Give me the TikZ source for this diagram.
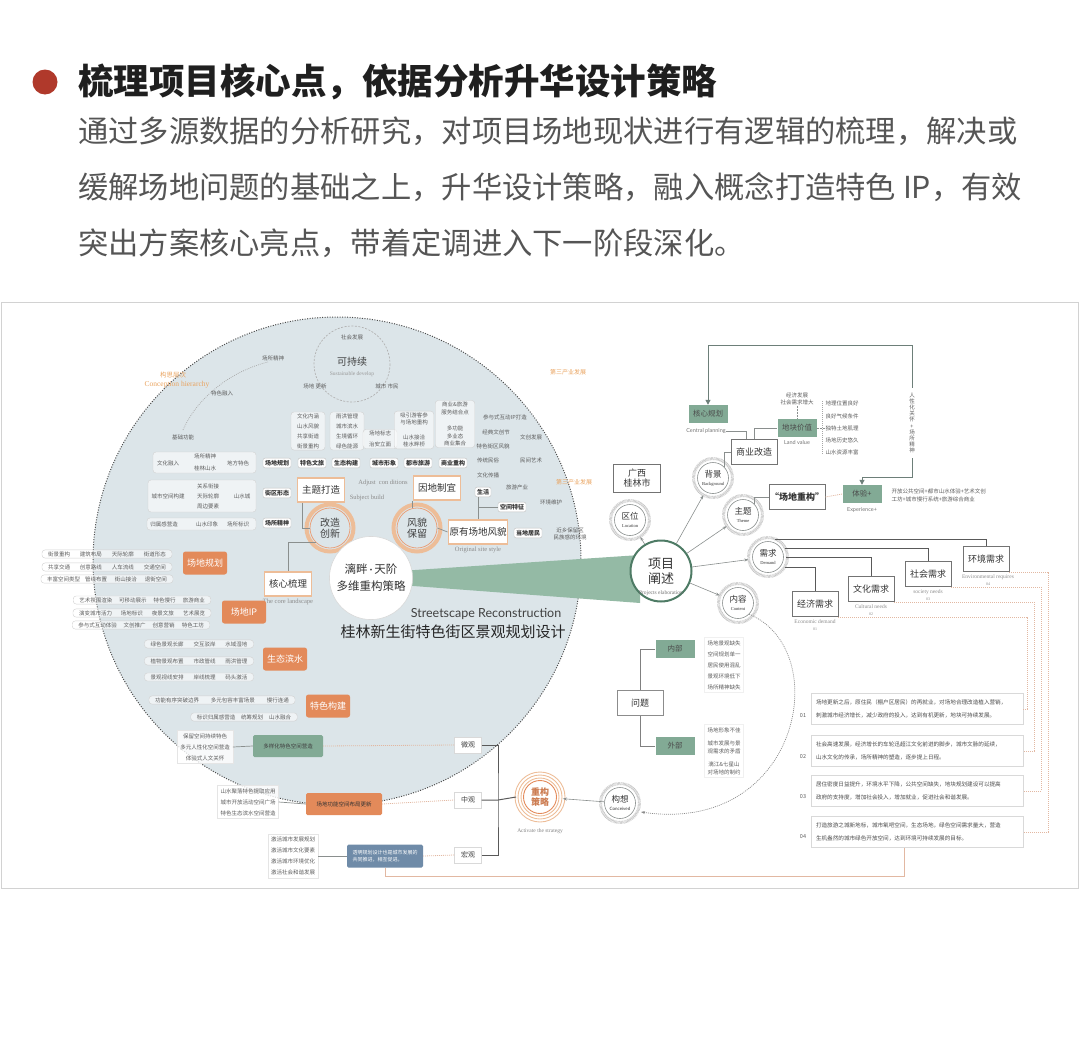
\documentclass[tikz,border=0pt]{standalone}
\usepackage{fontspec}
\setmainfont{Noto Sans CJK SC}
\newfontfamily\enserif{Liberation Serif}
\newfontfamily\ensans{Lato}
\usetikzlibrary{arrows.meta,positioning,calc}

\definecolor{headred}{HTML}{B0392B}
\definecolor{bodygray}{HTML}{555555}
\definecolor{circfill}{HTML}{DCE5E9}
\definecolor{bandgreen}{HTML}{94BAA5}
\definecolor{ringgreen}{HTML}{4E7B65}
\definecolor{tagorange}{HTML}{E38A5A}
\definecolor{paleorange}{HTML}{EDBD98}
\definecolor{hintorange}{HTML}{E9A35F}
\definecolor{boxgreen}{HTML}{82AA95}
\definecolor{boxblue}{HTML}{6F8BA8}
\definecolor{txtgray}{HTML}{5C5C5C}
\definecolor{linegray}{HTML}{8A8F8E}
\definecolor{loopgray}{HTML}{6D7F79}
\definecolor{dotpeach}{HTML}{E2B8A2}
\definecolor{framegray}{HTML}{D2D2D2}

\newcommand{\pxfont}[2]{\fontsize{#1}{#2}\selectfont}

\tikzset{
  headtext/.style={anchor=west, inner sep=0pt, font=\pxfont{35.5}{40}\bfseries, text=black!88},
  bodytext/.style={anchor=west, inner sep=0pt, font=\pxfont{30.3}{34}, text=bodygray},
  tiny/.style={font=\pxfont{5.5}{7}, text=txtgray, inner sep=0.5pt, align=center},
  entag/.style={font=\enserif\pxfont{5.5}{6}, text=black!45, inner sep=0.5pt},
  sanstag/.style={font=\ensans\pxfont{5.5}{6}, text=black!55, inner sep=0.5pt},
  tagbox/.style={draw=black!25, fill=white, rounded corners=2pt, font=\pxfont{6}{7}\bfseries, text=black!80, inner xsep=2pt, inner ysep=2pt},
  rowbox/.style={draw=black!18, fill=white, fill opacity=0.55, text opacity=1, rounded corners=3pt, font=\pxfont{5.5}{7}, text=txtgray, inner xsep=6pt, inner ysep=1.5pt, align=center},
  rowpanel/.style={draw=black!18, fill=white, fill opacity=0.55, rounded corners=3pt},
  orangetag/.style={fill=tagorange, text=white, rounded corners=2.5pt, font=\pxfont{9}{10}, minimum width=44, minimum height=23, inner sep=1pt},
  themebox/.style={draw=paleorange, line width=1.8pt, fill=white, font=\pxfont{9.5}{11}, text=black!80, minimum width=47, minimum height=24, inner sep=1pt},
  ringnode/.style={circle, draw=tagorange!80, line width=0.8pt, fill=circfill, minimum size=40, inner sep=0pt, align=center, font=\pxfont{10}{11.5}, text=black!75},
  sat/.style={circle, draw=linegray, line width=0.6pt, fill=white, minimum size=31, inner sep=0pt, align=center, font=\pxfont{8.5}{8}, text=black!80},
  satring/.style={draw=black!25, line width=3pt, dash pattern=on 0.5pt off 0.7pt},
  greenbox/.style={fill=boxgreen, font=\pxfont{7.5}{8}, text=black!70, minimum width=39, minimum height=18, inner sep=1pt},
  plainbox/.style={draw=black!55, line width=0.8pt, fill=white, font=\pxfont{9}{11}, text=black!80, minimum width=46, minimum height=25, inner sep=1pt, align=center},
  levelbox/.style={draw=black!15, fill=white, font=\pxfont{7}{8}, text=black!75, minimum width=27, minimum height=16, inner sep=1pt},
  listbox/.style={draw=black!10, fill=white, fill opacity=0.8, text opacity=1, font=\pxfont{5.5}{11}, text=txtgray, align=center, inner sep=3pt},
  notebox/.style={draw=black!15, fill=white, font=\pxfont{5.6}{13}, text=black!70, align=left, text width=202, minimum height=31, inner xsep=5pt, inner ysep=2pt},
  link/.style={draw=linegray, line width=0.7pt},
  looplink/.style={draw=loopgray, line width=1pt},
  needlink/.style={draw=black!65, line width=1pt},
  peachdots/.style={draw=dotpeach, line width=0.8pt, dash pattern=on 1pt off 1pt},
  arrowlink/.style={draw=linegray, line width=0.6pt, -{Stealth[length=4pt,width=3pt]}},
}

\begin{document}
\begin{tikzpicture}[x=1pt, y=-1pt]
\useasboundingbox (0,0) rectangle (1080,1044);

% Heading
\fill[headred] (45,82) circle (12.5);
\node[headtext] (title) at (78,82) {梳理项目核心点，依据分析升华设计策略};
\node[bodytext] (para1) at (78,131) {通过多源数据的分析研究，对项目场地现状进行有逻辑的梳理，解决或};
\node[bodytext] (para2) at (78,187) {缓解场地问题的基础之上，升华设计策略，融入概念打造特色 IP，有效};
\node[bodytext] (para3) at (78,243) {突出方案核心亮点，带着定调进入下一阶段深化。};

% Frame of the map
\draw[framegray, line width=0.8pt] (1,302) rectangle (1078,888);

% Big circle and green band
\fill[circfill] (337,561) circle (244);
\draw[black!70, line width=1pt, dash pattern=on 1pt off 1.5pt] (337,561) circle (244);
\fill[bandgreen] (400,571) -- (640,555) -- (640,603) -- (400,585) -- cycle;

% Conception hierarchy arc
\draw[black!35, line width=0.7pt, dash pattern=on 0.8pt off 1.2pt] (183,430) .. controls (196,400) and (228,372) .. (268,362);
\node[font=\pxfont{6.5}{7}, text=hintorange] (gouceng) at (173,375) {构思层次};
\node[font=\enserif\pxfont{7.5}{8}, text=hintorange] (goucengen) at (177,385) {Conception hierarchy};
\node[tiny] (hint1) at (273,358) {场所精神};
\node[tiny] (hint2) at (222,393) {特色融入};
\node[tiny] (hint3) at (183,437) {基础功能};

% Sustainable circle
\draw[black!30, line width=0.7pt, dash pattern=on 2pt off 1.5pt] (352,364) circle (38);
\node[tiny] (kcx0) at (352,337) {社会发展};
\node[font=\pxfont{10}{11}, text=black!75] (kcx) at (352,362) {可持续};
\node[entag, text=black!40] (kcxen) at (352,374) {Sustainable develop};
\node[tiny] (kcx1) at (315,386) {场地\ 更新};
\node[tiny] (kcx2) at (387,386) {城市\ 市民};

% Columns above the tag row
\node[rowbox, font=\pxfont{5.5}{10}] (colA) at (308,431) {文化内涵\\山水风貌\\共享街道\\街景重构};
\node[rowbox, font=\pxfont{5.5}{10}] (colB) at (347,431) {雨洪管理\\城市滨水\\生境循环\\绿色能源};
\node[rowbox, font=\pxfont{5.5}{11}] (colC) at (380,439) {场地标志\\治安立面};
\node[rowbox, font=\pxfont{5.5}{7.5}] (colD) at (414,430) {吸引游客参\\与场地重构\\[7pt]山水接洽\\桂水畔桥};
\node[rowbox, font=\pxfont{5.5}{7.5}] (colE) at (455,424) {商业\&旅游\\服务结合点\\[9pt]多功能\\多业态\\商业集合};

% Tag row
\foreach \x/\t in {277/场地规划, 312/特色文旅, 346/生态构建, 384/城市形象, 418/都市旅游, 453/商业重构}
  \node[tagbox] (tag\x) at (\x,463) {\t};
\node[tagbox] (jiequ) at (277,493) {街区形态};
\node[tagbox] (changsuo) at (277,523) {场所精神};

% Left panels of the tag column
\draw[rowpanel] (153,452) rectangle (256,473);
\node[tiny] (p1a) at (168,463) {文化融入};
\node[tiny] (p1b) at (205,456) {场所精神};
\node[tiny] (p1c) at (205,468) {桂林山水};
\node[tiny] (p1d) at (238,463) {地方特色};
\draw[rowpanel] (148,480) rectangle (256,512);
\node[tiny] (p2a) at (168,496) {城市空间构建};
\node[tiny] (p2b) at (208,486) {关系衔接};
\node[tiny] (p2c) at (208,496) {天际轮廓};
\node[tiny] (p2d) at (208,506) {周边要素};
\node[tiny] (p2e) at (242,496) {山水城};
\draw[rowpanel] (147,518) rectangle (256,530);
\node[tiny] (p3a) at (164,524) {归属感营造};
\node[tiny] (p3b) at (207,524) {山水印象};
\node[tiny] (p3c) at (238,524) {场所标识};

% Right cluster inside the circle
\node[tiny] (r1) at (505,417) {参与式互动IP打造};
\node[tiny] (r2) at (496,432) {经典文创节};
\node[tiny] (r3) at (531,437) {文创发展};
\node[tiny] (r4) at (493,446) {特色街区风貌};
\node[tiny] (r5) at (488,460) {传统民俗};
\node[tiny] (r6) at (531,460) {民间艺术};
\node[tiny] (r7) at (488,475) {文化传播};
\node[tiny] (r8) at (517,487) {旅游产业};
\node[tiny] (r9) at (551,502) {环境维护};
\node[tiny] (r10) at (570,534) {近乡保留区\\民族感的环境};
\node[font=\pxfont{6}{7}, text=hintorange] (sanchan1) at (568,372) {第三产业发展};
\node[font=\pxfont{6}{7}, text=hintorange] (sanchan2) at (574,482) {第三产业发展};

% Strategy core
\node[themebox] (zhuti) at (321,490) {主题打造};
\node[themebox] (yindi) at (437,488) {因地制宜};
\node[themebox, minimum width=57] (yuanyou) at (478,532) {原有场地风貌};
\node[themebox] (hexin) at (288,584) {核心梳理};
\node[entag, font=\enserif\pxfont{6.5}{7}] (adjust) at (383,483) {Adjust\ \ con ditions};
\node[entag, font=\enserif\pxfont{6.5}{7}] (subject) at (367,498) {Subject build};
\node[entag, font=\enserif\pxfont{6.5}{7}] (original) at (478,550) {Original site style};
\node[entag, font=\enserif\pxfont{6.5}{7}] (corelands) at (288,602) {The core landscape};
\draw[paleorange, line width=4pt] (330,528) circle (23.5);
\draw[paleorange, line width=4pt] (417,528) circle (23.5);
\node[ringnode] (gaizao) at (330,528) {改造\\创新};
\node[ringnode] (fengmao) at (417,528) {风貌\\保留};
\node[tagbox] (shenghuo) at (483,492) {生活};
\node[tagbox] (kongjian) at (512,507) {空间特征};
\node[tagbox] (jumin) at (528,533) {当地居民};
\draw[link] ($(zhuti.south west)+(6,0)$) |- (gaizao.west);
\draw[link] (yindi.south west) -- (yindi.south west |- fengmao.north);
\draw[link] (gaizao.225) -| (hexin.north);
\draw[link] (fengmao.east) -- (yuanyou.west);
\draw[link] (yuanyou.north) -- (yuanyou.north |- shenghuo.south);
\draw[link] (yuanyou.north |- kongjian.west) -- (kongjian.west);

\node[circle, fill=white, draw=black!15, line width=0.6pt, minimum size=83, align=center, font=\pxfont{11.5}{17}, text=black!80] (core) at (371,578) {漓畔{\ensans\,·\,}天阶\\多维重构策略};
\node[font=\ensans\pxfont{12.5}{13}, text=black!75] (titleen) at (486,614) {Streetscape Reconstruction};
\node[font=\pxfont{15}{16}, text=black!85] (titlecn) at (453,632) {桂林新生街特色街区景观规划设计};

% Orange tags with their rows
\node[orangetag] (ot1) at (205,563) {场地规划};
\node[rowbox] (a1) at (107,554) {街景重构\hspace{10pt}建筑布局\hspace{10pt}天际轮廓\hspace{10pt}街道形态};
\node[rowbox] (a2) at (107,567) {共享交通\hspace{10pt}创意路线\hspace{10pt}人车流线\hspace{10pt}交通空间};
\node[rowbox] (a3) at (107,579) {丰富空间类型\hspace{5pt}管线布置\hspace{8pt}街山接洽\hspace{8pt}退街空间};
\node[orangetag] (ot2) at (244,612) {场地IP};
\node[rowbox] (b1) at (142,600) {艺术氛围渲染\hspace{7pt}可移动展示\hspace{7pt}特色慢行\hspace{7pt}旅游商业};
\node[rowbox] (b2) at (142,613) {演变城市活力\hspace{9pt}场地标识\hspace{9pt}夜景文旅\hspace{9pt}艺术展览};
\node[rowbox] (b3) at (141,625) {参与式互动体验\hspace{7pt}文创推广\hspace{7pt}创意营销\hspace{7pt}特色工坊};
\node[orangetag] (ot3) at (285,659) {生态滨水};
\node[rowbox] (c1) at (199,644) {绿色景观长廊\hspace{10pt}交互驳岸\hspace{10pt}水域湿地};
\node[rowbox] (c2) at (199,661) {植物景观布置\hspace{10pt}市政管线\hspace{10pt}雨洪管理};
\node[rowbox] (c3) at (199,677) {景观视线安排\hspace{10pt}岸线梳理\hspace{10pt}码头激活};
\node[orangetag] (ot4) at (328,706) {特色构建};
\node[rowbox] (d1) at (222,700) {功能有序突破边界\hspace{12pt}多元包容丰富场景\hspace{12pt}慢行连通};
\node[rowbox] (d2) at (244,717) {标识归属感营造\hspace{6pt}统筹规划\hspace{6pt}山水融合};

% Micro, meso and macro levels
\node[listbox] (weilist) at (205,747) {保留空间持续特色\\多元人性化空间营造\\体验式人文关怀};
\node[listbox] (zhonglist) at (248,802) {山水聚落特色提取应用\\城市开放活动空间广场\\特色生态滨水空间营造};
\node[listbox] (honglist) at (293,856) {激活城市发展规划\\激活城市文化要素\\激活城市环境优化\\激活社会和谐发展};
\node[fill=boxgreen, rounded corners=1.5pt, font=\pxfont{5.5}{7}, text=black!75, minimum width=70, minimum height=22] (duoyang) at (288,746) {多样化特色空间营造};
\node[fill=tagorange, rounded corners=1.5pt, font=\pxfont{5.5}{7}, text=black!80, minimum width=76, minimum height=22] (gongneng) at (344,804) {场地功能空间布局更新};
\node[fill=boxblue, rounded corners=1.5pt, font=\pxfont{5}{7}, text=white, align=left, minimum width=76, minimum height=23, inner sep=2pt] (touming) at (385,856) {透明规划设计也是城市发展的\\共同推进，相互促进。};
\node[levelbox] (weiguan) at (468,745) {微观};
\node[levelbox] (zhongguan) at (468,800) {中观};
\node[levelbox] (hongguan) at (468,855) {宏观};
\draw[link] (weilist.east) -- (duoyang.west);
\draw[link] (zhonglist.east) -- (gongneng.west);
\draw[link] (honglist.east) -- (touming.west);
\draw[peachdots] (duoyang.east) -- (weiguan.west);
\draw[peachdots] (gongneng.east) -- (zhongguan.west);
\draw[peachdots] (touming.east) -- (hongguan.west);

% Strategy ring
\foreach \r in {19,22,25}
  \draw[paleorange, line width=0.9pt] (540,797) circle (\r);
\node[circle, draw=tagorange, line width=0.9pt, fill=white, minimum size=33, inner sep=0pt, align=center, font=\pxfont{9}{10}\bfseries, text=tagorange!90!black] (chonggou) at (540,797) {重构\\策略};
\node[entag, text=black!50] (chonggouen) at (540,831) {Activate the strategy};
\coordinate (lvl) at (498,800);
\draw[needlink] (weiguan.east) -| (lvl) |- (hongguan.east);
\draw[needlink] (zhongguan.east) -- (lvl) -- ($(chonggou.west)+(-7,0)$);

% Project elaboration hub
\node[circle, draw=ringgreen, line width=2pt, fill=white, minimum size=61, align=center, font=\pxfont{13}{15}, text=black!80] (xiangmu) at (661,571) {项目\\阐述};
\node[entag, text=black!55] (xiangmuen) at (661,593) {Projects elaboration};

\node[sat] (quwei) at (630,520) {区位\\{\enserif\pxfont{4.5}{5}Location}};
\node[sat] (beijing) at (713,478) {背景\\{\enserif\pxfont{4.5}{5}Background}};
\node[sat] (zhuti2) at (743,515) {主题\\{\enserif\pxfont{4.5}{5}Theme}};
\node[sat] (xuqiu) at (768,557) {需求\\{\enserif\pxfont{4.5}{5}Demand}};
\node[sat] (neirong) at (738,603) {内容\\{\enserif\pxfont{4.5}{5}Content}};
\node[sat] (gouxiang) at (620,803) {构想\\{\ensans\pxfont{4.5}{5}Conceived}};
\foreach \n in {quwei,beijing,zhuti2,xuqiu,neirong,gouxiang}
  \draw[satring] (\n.center) circle (19.5);
\foreach \n in {quwei,beijing,zhuti2,xuqiu,neirong}
  \draw[arrowlink, shorten >=4pt] (xiangmu) -- (\n);
\draw[arrowlink, shorten >=6pt] (gouxiang) -- (chonggou);
\node[plainbox, minimum width=47, minimum height=28, font=\pxfont{9}{10.5}] (guilin) at (637,478) {广西\\桂林市};

% Loop at the top right
\node[greenbox] (hexinguihua) at (708,414) {核心规划};
\node[sanstag] (cplabel) at (706,431) {Central planning};
\node[greenbox] (dikuai) at (797,428) {地块价值};
\node[sanstag] (lvlabel) at (797,442) {Land value};
\node[tiny, font=\pxfont{5.5}{7}] (jingjifz) at (797,399) {经济发展\\社会需求增大};
\node[plainbox] (shangye) at (754,452) {商业改造};
\draw[link, line width=0.5pt, densely dotted] (jingjifz.south) -- (dikuai.north);
\draw[link, line width=0.5pt] (shangye.north) |- (dikuai.west);
\draw[link, line width=0.5pt] (shangye.120) |- (cplabel.east);
\draw[link] (beijing.north east) |- (shangye.west);
\draw[black!35, dash pattern=on 1pt off 1pt] (822,401) -- (822,454);
\foreach \y/\t in {403/地理位置良好, 416/良好气候条件, 428/独特土地肌理, 440/场地历史悠久, 452/山水资源丰富}
  \node[tiny, anchor=west] (lv\y) at (825,\y) {\t};
\draw[link, line width=0.5pt, densely dotted] (dikuai.east) -- (lv428.west);
\node[tiny, font=\pxfont{5.5}{6.2}] (renxing) at (912,423) {人\\性\\化\\关\\怀\\+\\场\\所\\精\\神};
\coordinate (looptop) at (912,345);
\coordinate (loopbot) at (912,477);
\draw[looplink, -{Triangle[length=5pt,width=5pt]}] ($(renxing.north)+(0,-4)$) -- (looptop) -| (hexinguihua.north);
\node[plainbox, font=\pxfont{9}{10}\bfseries] (chongjian) at (797,497) {“场地重构”};
\node[greenbox] (tiyan) at (862,494) {体验+};
\node[sanstag] (tiyanen) at (862,510) {Experience+};
\draw[looplink, -{Triangle[length=5pt,width=5pt]}] ($(renxing.south)+(0,4)$) -- (loopbot) -| (tiyan.north);
\draw[link] (zhuti2.north east) |- (chongjian.west);
\draw[peachdots] (chongjian.east) -- (tiyan.west);
\node[tiny, anchor=west, align=left, font=\pxfont{5.5}{8}] (tiyantext) at (891,495) {开放公共空间+都市山水体验+艺术文创\\工坊+城市慢行系统+旅游综合商业};

% Demand branches
\node[plainbox] (jingji) at (815,604) {经济需求};
\node[plainbox] (wenhua) at (871,589) {文化需求};
\node[plainbox] (shehui) at (928,574) {社会需求};
\node[plainbox] (huanjing) at (986,559) {环境需求};
\node[entag] (jingjien) at (815,622) {Economic demand};
\node[entag, font=\enserif\pxfont{4}{5}] (jingjinum) at (815,629) {01};
\node[entag] (wenhuaen) at (871,607) {Cultural needs};
\node[entag, font=\enserif\pxfont{4}{5}] (wenhuanum) at (871,614) {02};
\node[entag] (shehuien) at (928,592) {society needs};
\node[entag, font=\enserif\pxfont{4}{5}] (shehuinum) at (928,599) {03};
\node[entag] (huanjingen) at (988,577) {Environmental requires};
\node[entag, font=\enserif\pxfont{4}{5}] (huanjingnum) at (988,584) {04};
\draw[needlink] ($(xuqiu)+(7,-18)$) -| (huanjing.north);
\draw[needlink] ($(xuqiu)+(17,-9)$) -| (shehui.north);
\draw[needlink] ($(xuqiu)+(18,0)$) -| (wenhua.north);
\draw[needlink] ($(xuqiu)+(17,10)$) -| (jingji.north);

% Notes 01 to 04
\node[notebox] (note01) at (917,709) {场地更新之后，原住民（棚户区居民）的再就业，对场地合理改造植入营销，\\刺激城市经济增长，减少政府的投入，达到有机更新，地块可持续发展。};
\node[notebox] (note02) at (917,751) {社会高速发展，经济增长的车轮迅超江文化前进的脚步，城市文脉的延续，\\山水文化的传承，场所精神的塑造，逐步提上日程。};
\node[notebox] (note03) at (917,791) {居住密度日益提升，环境水平下降，公共空间缺失，地块规划建设可以提高\\政府的支持度，增加社会投入，增加就业，促进社会和谐发展。};
\node[notebox] (note04) at (917,832) {打造旅游之城新地标，城市氧吧空间，生态场地，绿色空间需求量大，营造\\生机盎然的城市绿色开放空间，达到环境可持续发展的目标。};
\node[tiny] (num01) at (803,716) {01};
\node[tiny] (num02) at (803,757) {02};
\node[tiny] (num03) at (803,797) {03};
\node[tiny] (num04) at (803,837) {04};
\draw[peachdots] (jingji.south east) -| ($(note01.east)+(4,0)$) -- (note01.east);
\draw[peachdots] (wenhua.south east) -| ($(note02.east)+(11,0)$) -- (note02.east);
\draw[peachdots] (shehui.south east) -| ($(note03.east)+(18,0)$) -- (note03.east);
\draw[peachdots] (huanjing.south east) -| ($(note04.east)+(25,0)$) -- (note04.east);
\draw[dotpeach, line width=0.6pt] (touming.south) |- ($(note04.south)+(-13,29)$) -- ($(note04.south)+(-13,0)$);

% Problems
\node[plainbox, draw=black!45] (wenti) at (640,703) {问题};
\node[greenbox] (neibu) at (675,649) {内部};
\node[greenbox] (waibu) at (675,746) {外部};
\draw[needlink, draw=black!50] (neibu.west) -| (wenti.north);
\draw[needlink, draw=black!50] (waibu.west) -| (wenti.south);
\node[listbox, draw=black!6, font=\pxfont{5.5}{11}] (neilist) at (724,665) {场地景观缺失\\空间规划单一\\居民使用混乱\\景观环境低下\\场所精神缺失};
\node[listbox, draw=black!6, font=\pxfont{5.5}{7.5}] (wailist) at (724,751) {场地形象不佳\\[6pt]城市发展与景\\观需求的矛盾\\[6pt]漓江\&七星山\\对场地的制约};
\draw[black!45, line width=0.7pt, dash pattern=on 1pt off 1pt, -{Stealth[length=4pt,width=3pt]}] (neirong.south east) .. controls (835,650) and (800,835) .. (641,812);
\end{tikzpicture}
\end{document}
